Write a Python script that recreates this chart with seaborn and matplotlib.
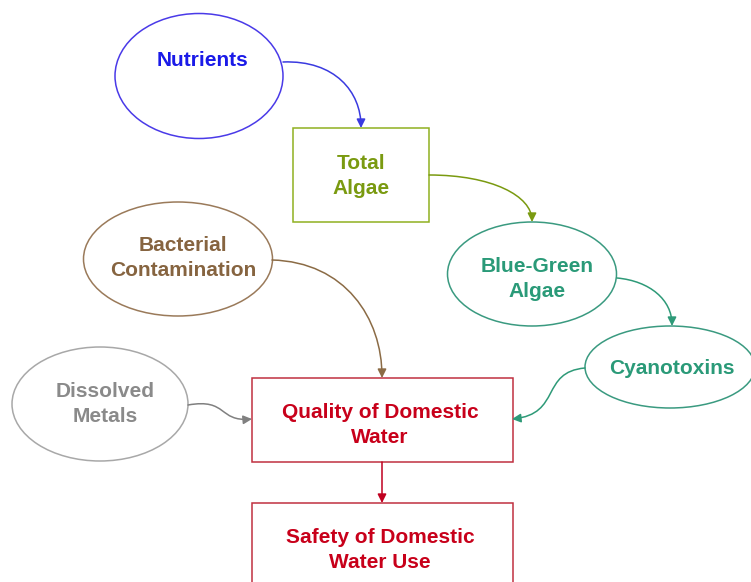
import matplotlib
matplotlib.use("Agg")
import matplotlib.pyplot as plt
import seaborn as sns
from matplotlib.patches import Ellipse, Rectangle, FancyArrowPatch
from matplotlib.path import Path

sns.set_theme(style="white")
plt.rcParams['font.family'] = ['Liberation Sans', 'DejaVu Sans']

# Node data
labels = ["Nutrients", "Total\nAlgae", "Blue-Green\nAlgae", "Cyanotoxins",
          "Bacterial\nContamination", "Dissolved\nMetals",
          "Quality of Domestic\nWater", "Safety of Domestic\nWater Use"]
shapes = ["ellipse", "box", "ellipse", "ellipse", "ellipse", "ellipse", "box", "box"]
line_colors = ["#4a3ae8", "#90b020", "#3a9a80", "#3a9a80", "#9a7a5a", "#a8a8a8",
               "#c03040", "#c03040"]
text_colors = ["#1a1ae8", "#7a9a10", "#2a9a78", "#2a9a78", "#866440", "#8a8a8a",
               "#c8001a", "#c8001a"]

# layout (pixels): centre x, centre y, width, height
layout = [(199, 76, 168, 125), (361, 175, 136, 94), (532, 274, 169, 104),
          (670, 367, 170, 82), (178, 259, 189, 114), (100, 404, 176, 114),
          (382, 420, 261, 84), (382, 547, 261, 88)]
text_pos = [(203, 61), (361, 176), (537, 279), (672, 368), (183, 258),
            (105, 404), (380, 425), (380, 550)]

# edges: (source, target, bezier control points)
edges = [
    (0, 1, [(283, 62), (335, 60), (361, 92), (361, 128)]),
    (1, 2, [(429, 175), (492, 175), (532, 196), (532, 222)]),
    (2, 3, [(617, 278), (650, 281), (672, 300), (672, 326)]),
    (4, 6, [(272, 260), (345, 262), (382, 318), (382, 378)]),
    (3, 6, [(585, 368), (540, 372), (562, 414), (512, 419)]),
    (5, 6, [(188, 405), (228, 398), (218, 422), (252, 419)]),
    (6, 7, [(382, 462), (382, 475), (382, 490), (382, 503)]),
]
edge_colors = ["#3a3ae0", "#7a9a10", "#2e9a78", "#8b6b45", "#2e9a78", "#808080", "#c00020"]

W, H = 751, 582
fig = plt.figure(figsize=(W / 100, H / 100), dpi=100)
ax = fig.add_axes([0, 0, 1, 1])
ax.set_xlim(0, W)
ax.set_ylim(H, 0)
ax.axis("off")

for lab, shp, lc, tc, (cx, cy, w, h), (tx, ty) in zip(labels, shapes, line_colors,
                                                      text_colors, layout, text_pos):
    if shp == "ellipse":
        p = Ellipse((cx, cy), w, h, facecolor="white", edgecolor=lc, lw=1.1)
    else:
        p = Rectangle((cx - w / 2, cy - h / 2), w, h, facecolor="white", edgecolor=lc, lw=1.1)
    ax.add_patch(p)
    ax.text(tx, ty, lab, color=tc, ha="center", va="center", fontsize=15,
            fontweight="bold", linespacing=1.42)

for (s, t, pts), ec in zip(edges, edge_colors):
    path = Path(pts, [Path.MOVETO, Path.CURVE4, Path.CURVE4, Path.CURVE4])
    arr = FancyArrowPatch(path=path, arrowstyle="-|>", mutation_scale=13,
                          color=ec, lw=1.1, shrinkA=0, shrinkB=0)
    ax.add_patch(arr)

fig.savefig("out.png", dpi=100, facecolor="white")
